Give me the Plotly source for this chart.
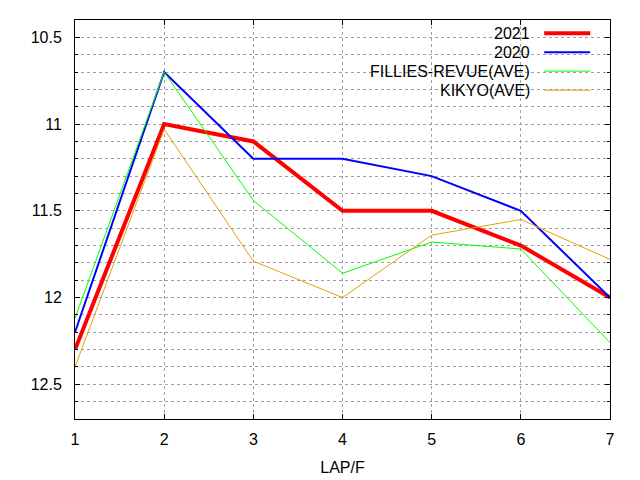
import plotly.graph_objs as go

# lap index and per-furlong lap times (seconds)
laps = [1, 2, 3, 4, 5, 6, 7]
lap_2021 = [12.3, 11.0, 11.1, 11.5, 11.5, 11.7, 12.0]
lap_2020 = [12.2, 10.7, 11.2, 11.2, 11.3, 11.5, 12.0]
lap_fillies = [12.12, 10.7, 11.44, 11.86, 11.68, 11.72, 12.26]
lap_kikyo = [12.4, 11.03, 11.79, 12.0, 11.64, 11.55, 11.78]

names = ['2021', '2020', 'FILLIES-REVUE(AVE)', 'KIKYO(AVE)']
colors = ['#ff0000', '#0000ff', '#00ff00', '#e69f00']
widths = [4, 2, 1, 1]
series = [lap_2021, lap_2020, lap_fillies, lap_kikyo]

FONT = 'Liberation Sans, Arial, sans-serif'
GRID = '#a0a0a0'

traces = []
for name, ys, c, w in zip(names, series, colors, widths):
    traces.append(go.Scatter(x=laps, y=ys, name=name, mode='lines',
                             line=dict(color=c, width=w), showlegend=False))

# gnuplot-style key: right aligned text, sample line to the right
shapes = [dict(type='rect', xref='paper', yref='paper', x0=0.52, x1=0.975,
               y0=0.8, y1=0.99, fillcolor='white', line=dict(width=0),
               layer='between')]
annotations = []
for i, (name, c, w) in enumerate(zip(names, colors, widths)):
    yy = 0.967 - i * 0.0476
    annotations.append(dict(text=name, xref='paper', yref='paper', x=0.854, y=yy,
                            xanchor='right', yanchor='middle', showarrow=False,
                            font=dict(size=16, color='black', family=FONT)))
    shapes.append(dict(type='line', xref='paper', yref='paper', x0=0.877, x1=0.963,
                       y0=yy, y1=yy, line=dict(color=c, width=w), layer='above'))

# page body has an 8px margin, so the margins are shifted to compensate
layout = go.Layout(
    width=640, height=480,
    margin=dict(l=67, r=38, t=12, b=69),
    paper_bgcolor='white', plot_bgcolor='white',
    font=dict(family=FONT, size=16, color='black'),
    xaxis=dict(
        range=[1, 7], tick0=1, dtick=1,
        ticks='inside', ticklen=5, tickcolor='black',
        tickfont=dict(size=16), ticklabelstandoff=6,
        showline=True, linecolor='black', linewidth=1, mirror='ticks',
        showgrid=True, gridcolor=GRID, griddash='dot', gridwidth=1,
        zeroline=False,
        title=dict(text='LAP/F', font=dict(size=16), standoff=14),
    ),
    yaxis=dict(
        range=[12.7, 10.4], tick0=10.5, dtick=0.5,
        ticks='inside', ticklen=5, tickcolor='black',
        tickfont=dict(size=16),
        showline=True, linecolor='black', linewidth=1, mirror='ticks',
        showgrid=True, gridcolor=GRID, griddash='dot', gridwidth=1,
        zeroline=False, ticklabelstandoff=9,
        minor=dict(dtick=0.1, tick0=10.4, ticks='inside', ticklen=3,
                   tickcolor='black', showgrid=True, gridcolor=GRID,
                   griddash='dot', gridwidth=1),
    ),
    shapes=shapes,
    annotations=annotations,
)

fig = go.Figure(data=traces, layout=layout)
fig.write_html('out.html')
